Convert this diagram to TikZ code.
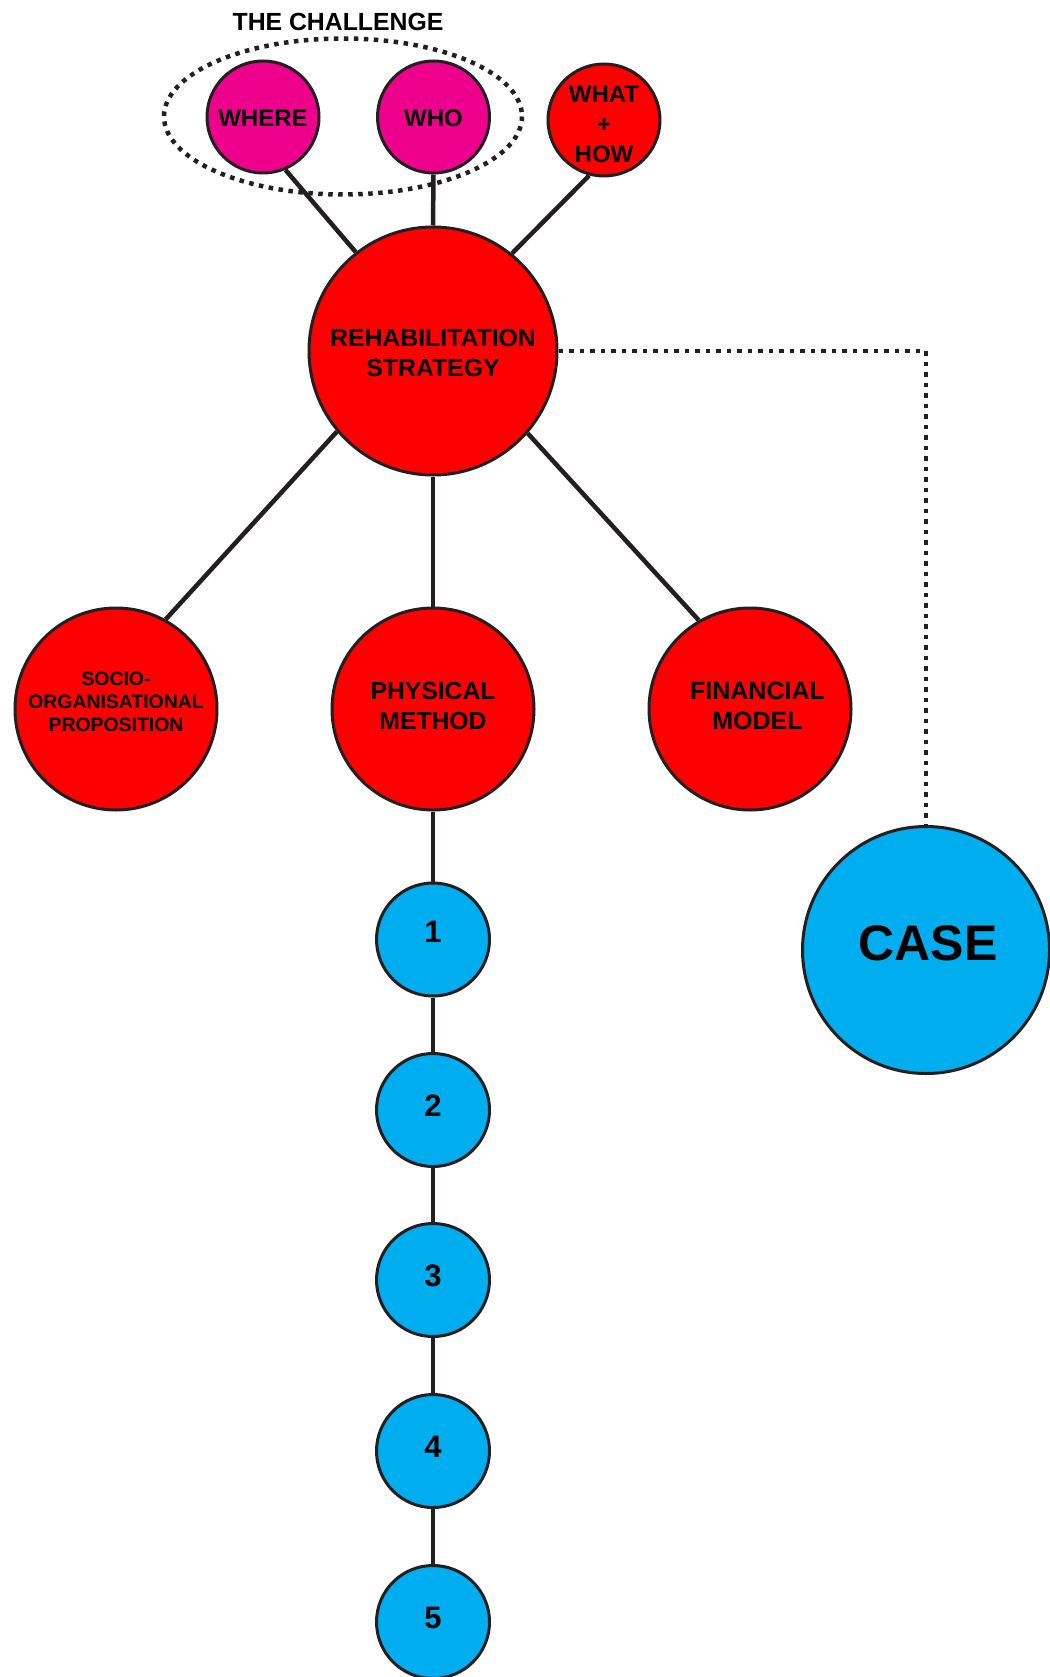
\documentclass[tikz,border=0pt]{standalone}
\usepackage{fontspec}
\setmainfont{Liberation Sans}
\definecolor{linec}{HTML}{231F20}
\definecolor{redc}{HTML}{FF0000}
\definecolor{pinkc}{HTML}{EC008C}
\definecolor{bluec}{HTML}{00ADEE}
\tikzset{
  circ/.style={circle, draw=linec, line width=3pt, inner sep=0pt},
  redcirc/.style={circ, fill=redc},
  pinkcirc/.style={circ, fill=pinkc},
  bluecirc/.style={circ, fill=bluec},
  txt/.style={align=center, inner sep=0pt, text=black},
  conn/.style={draw=linec, line width=4.5pt},
  dotline/.style={draw=linec, line width=4.5pt, dash pattern=on 4.5pt off 6pt},
}
\newcommand{\txtfont}[2]{\fontsize{#1}{#2}\selectfont\bfseries}
\begin{document}
\begin{tikzpicture}[x=1pt, y=-1pt]
\useasboundingbox (0,0) rectangle (1049,1677);
% challenge group
\draw[dotline, dash pattern=on 4.5pt off 5.5pt] (343,116.5) ellipse [x radius=179, y radius=78];
\node[txt, font=\txtfont{24.8}{28}] (title) at (338,22) {THE CHALLENGE};
% nodes
\node[pinkcirc, minimum size=112pt, label={[txt, font=\txtfont{24}{30}, yshift=-1pt]center:WHERE}] (where) at (263,117) {};
\node[pinkcirc, minimum size=112pt, label={[txt, font=\txtfont{24}{30}, yshift=-1pt]center:WHO}] (who) at (433.5,117) {};
\node[redcirc, minimum size=112pt, label={[txt, font=\txtfont{24}{30}, yshift=-4pt]center:WHAT\\+\\HOW}] (what) at (604,120) {};
\node[redcirc, minimum size=248pt, label={[txt, font=\txtfont{24.8}{30}, yshift=-2pt]center:REHABILITATION\\STRATEGY}] (rehab) at (433,351) {};
\node[redcirc, minimum size=202pt, label={[txt, font=\txtfont{19.4}{23}, yshift=7.5pt]center:SOCIO-\\ORGANISATIONAL\\PROPOSITION}] (socio) at (116,709) {};
\node[redcirc, minimum size=202pt, label={[txt, font=\txtfont{24.7}{30}, yshift=3pt]center:PHYSICAL\\METHOD}] (phys) at (433,709) {};
\node[redcirc, minimum size=202pt, label={[txt, font=\txtfont{25}{30}, yshift=3pt, xshift=7.5pt]center:FINANCIAL\\MODEL}] (fin) at (750,709) {};
\node[bluecirc, minimum size=247pt, label={[txt, font=\txtfont{50}{56}, yshift=6.5pt, xshift=2pt]center:CASE}] (case) at (926,950) {};
\node[bluecirc, minimum size=113pt, label={[txt, font=\txtfont{31}{36}, yshift=8pt]center:1}] (n1) at (433,939.5) {};
\node[bluecirc, minimum size=113pt, label={[txt, font=\txtfont{31}{36}, yshift=4pt]center:2}] (n2) at (433,1110) {};
\node[bluecirc, minimum size=113pt, label={[txt, font=\txtfont{31}{36}, yshift=4pt]center:3}] (n3) at (433,1280) {};
\node[bluecirc, minimum size=113pt, label={[txt, font=\txtfont{31}{36}, yshift=4pt]center:4}] (n4) at (433,1451) {};
\node[bluecirc, minimum size=113pt, label={[txt, font=\txtfont{31}{36}, yshift=4pt]center:5}] (n5) at (433,1622) {};
% connectors
\draw[conn] (where.-67) -- (rehab.128);
\draw[conn] (who.south) -- (rehab.north);
\draw[conn] (what.-105) -- (rehab.51.6);
\draw[conn] (rehab.220.5) -- (socio.61.7);
\draw[conn] (rehab.south) -- (phys.north);
\draw[conn] (rehab.-41.7) -- (fin.120);
\draw[conn] (phys.south) -- (n1.north);
\draw[conn] (n1.south) -- (n2.north);
\draw[conn] (n2.south) -- (n3.north);
\draw[conn] (n3.south) -- (n4.north);
\draw[conn] (n4.south) -- (n5.north);
\coordinate (corner) at (case.north |- rehab.east);
\draw[dotline] (rehab.east) -- (corner) -- (case.north);
\end{tikzpicture}
\end{document}
